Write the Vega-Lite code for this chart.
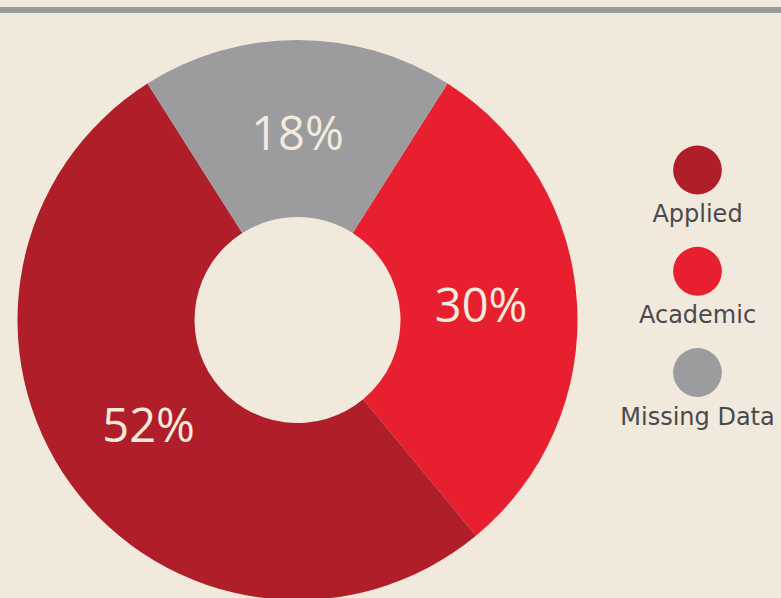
{
  "$schema": "https://vega.github.io/schema/vega-lite/v6.json",
  "autosize": "none",
  "width": 781,
  "height": 598,
  "padding": 0,
  "background": "#f1e9db",
  "config": {"view": {"stroke": null}},
  "data": {
    "values": [
      {"category": "Academic", "value": 30, "label": "30%", "rank": 1},
      {"category": "Applied", "value": 52, "label": "52%", "rank": 2},
      {"category": "Missing Data", "value": 18, "label": "18%", "rank": 3}
    ]
  },
  "layer": [
    {
      "mark": {"type": "rule", "color": "#9b9a9b", "strokeWidth": 6},
      "encoding": {"y": {"value": 10}}
    },
    {
      "mark": {"type": "arc", "x": 297.5, "y": 320, "radius": 280, "radius2": 103},
      "encoding": {
        "theta": {"field": "value", "type": "quantitative", "stack": true, "scale": {"range": [0.5655, 6.8487]}},
        "order": {"field": "rank", "type": "quantitative"},
        "color": {
          "field": "category", "type": "nominal", "legend": null,
          "scale": {"domain": ["Applied", "Academic", "Missing Data"], "range": ["#b01f29", "#e81f2f", "#9c9b9d"]}
        }
      }
    },
    {
      "mark": {"type": "text", "x": 297.5, "y": 320, "radius": 184, "font": "Open Sans", "fontSize": 47, "color": "#f2eadc", "baseline": "middle", "align": "center"},
      "encoding": {
        "theta": {"field": "value", "type": "quantitative", "stack": true, "scale": {"range": [0.5655, 6.8487]}},
        "order": {"field": "rank", "type": "quantitative"},
        "text": {"field": "label"}
      }
    },
    {
      "mark": {"type": "point", "shape": "circle", "filled": true, "opacity": 1, "size": 2376},
      "encoding": {
        "x": {"value": 697.5},
        "y": {"field": "category", "type": "nominal", "axis": null, "sort": ["Applied", "Academic", "Missing Data"], "scale": {"type": "point", "range": [170, 372.5], "padding": 0}},
        "color": {"field": "category", "type": "nominal", "legend": null}
      }
    },
    {
      "mark": {"type": "text", "font": "DejaVu Sans", "fontSize": 24, "color": "#4a4a4c", "baseline": "alphabetic", "align": "center", "dy": 52},
      "encoding": {
        "x": {"value": 697.5},
        "y": {"field": "category", "type": "nominal", "axis": null, "sort": ["Applied", "Academic", "Missing Data"]},
        "text": {"field": "category"}
      }
    }
  ]
}
